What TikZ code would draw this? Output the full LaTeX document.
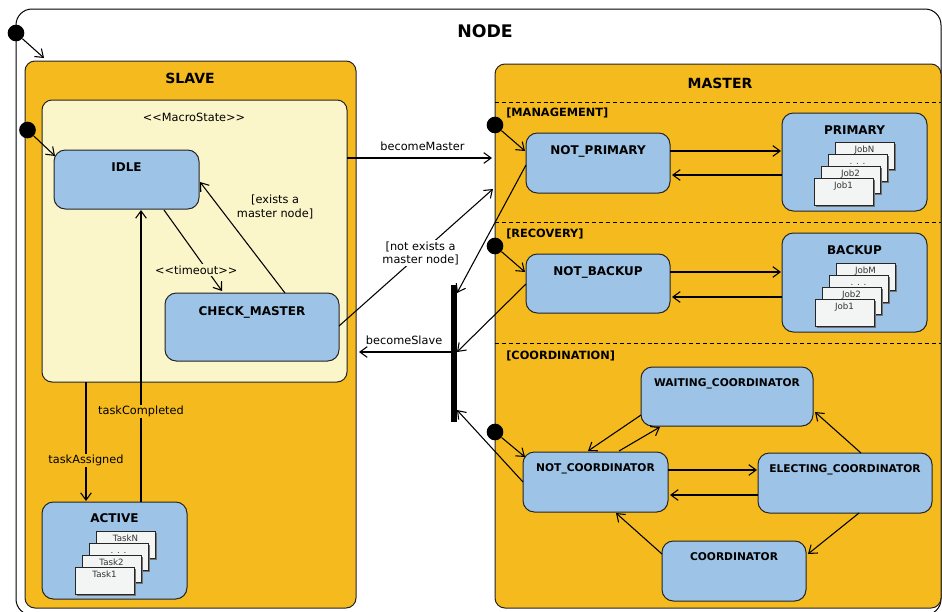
\documentclass[tikz,border=0pt]{standalone}
\usepackage{fontspec}
\setmainfont{DejaVu Sans}
\usetikzlibrary{arrows.meta,calc,shadows}
\definecolor{orangeC}{RGB}{245,187,30}
\definecolor{blueC}{RGB}{157,195,230}
\definecolor{macroC}{RGB}{251,245,202}
\definecolor{jobC}{RGB}{243,244,244}
\definecolor{edgeC}{RGB}{35,35,35}
\tikzset{
 box/.style={draw=edgeC, line width=0.75pt, rounded corners=7.5pt, inner sep=0pt, outer sep=0pt, anchor=north west},
 frame/.style={box, draw=black, rounded corners=12pt},
 region/.style={box, fill=orangeC},
 macro/.style={box, fill=macroC},
 state/.style={box, fill=blueC, rounded corners=8.5pt},
 bigtitle/.style={font=\fontsize{10.5}{12}\selectfont\bfseries, inner sep=0pt, anchor=base},
 hugetitle/.style={font=\fontsize{13}{15}\selectfont\bfseries, inner sep=0pt, anchor=base},
 sttitle/.style={font=\fontsize{9}{11}\selectfont\bfseries, inner sep=0pt, anchor=base},
 smtitle/.style={font=\fontsize{8}{10}\selectfont\bfseries, inner sep=0pt, anchor=base},
 lbl/.style={font=\fontsize{8.5}{10}\selectfont, inner sep=1pt, align=center},
 sect/.style={font=\fontsize{8.5}{10}\selectfont\bfseries, anchor=west, inner sep=0pt},
 tr/.style={draw=black, line width=0.8pt, -{Straight Barb[length=5.5pt,width=8pt,line width=0.8pt]}},
 init/.style={circle, fill=black, inner sep=0pt, minimum size=12.5pt},
 job/.style={draw=black!85, fill=jobC, line width=0.6pt, inner sep=0pt, outer sep=0pt, anchor=north west,
   minimum width=44.25pt, minimum height=20.25pt,
   drop shadow={shadow xshift=1.2pt, shadow yshift=-1.2pt, fill=black!55, opacity=1}},
 jobtxt/.style={font=\fontsize{6.5}{7}\selectfont, text=black!80, inner sep=0pt, anchor=base},
 forkbar/.style={fill=black, inner sep=0pt, outer sep=0pt, anchor=north west},
}
\newcommand\mkbox[6]{%
  \node[#1, minimum width={(#5-#3)*0.75pt}, minimum height={(#6-#4)*0.75pt}] (#2) at (#3,#4) {};}
\newcommand\mkstack[5]{%
 \node[job] (#1a) at (#2,#3) {};
 \node[jobtxt] (#1at) at ($(#1a.north)+(0,10)$) {#4};
 \node[job] (#1b) at ({#2-7},{#3+12}) {};
 \node[jobtxt] (#1bt) at ($(#1b.north)+(0,10)$) {. . .};
 \node[job] (#1c) at ({#2-14},{#3+24}) {};
 \node[jobtxt] (#1ct) at ($(#1c.north)+(0,10)$) {#52};
 \node[job] (#1d) at ({#2-21},{#3+36}) {};
 \node[jobtxt] (#1dt) at ($(#1d.north)+(0,10)$) {#51};
}
\begin{document}
\begin{tikzpicture}[x=0.75pt,y=-0.75pt]
\useasboundingbox (0,0) rectangle (942,611);
\clip (0,0) rectangle (942,611);

% outer NODE frame
\mkbox{frame}{outer}{16}{9}{941}{615}
\node[hugetitle] (nodet) at (485,37) {NODE};
\node[init] (i0) at (16,33) {};
\coordinate (c0) at (44,58);

% SLAVE
\mkbox{region}{slave}{25}{61}{356}{608}
\node[bigtitle] (slavet) at (190,83) {SLAVE};
\mkbox{macro}{macro}{42}{100}{347}{382}
\node[lbl, anchor=base, inner sep=0pt] (macrot) at (194,121) {<\kern0pt<MacroState>\kern0pt>};
\node[init] (i1) at (27.5,130) {};
\mkbox{state}{idle}{54}{150}{199}{209}
\node[sttitle] (idlet) at ($(idle.north)+(0,21)$) {IDLE};
\mkbox{state}{check}{165}{293}{339}{361}
\node[sttitle] (checkt) at ($(check.north)+(0,22)$) {CHECK\_MASTER};
\mkbox{state}{active}{42}{502}{187}{599}
\node[sttitle] (activet) at ($(active.north)+(0,20)$) {ACTIVE};
\mkstack{tk}{96}{531}{TaskN}{Task}

% MASTER
\mkbox{region}{master}{495}{64}{941}{608}
\node[bigtitle] (mastert) at (720,88) {MASTER};
\draw[line width=0.6pt, dash pattern=on 3pt off 2.2pt] ($(master.north west)+(0,38)$) -- ($(master.north east)+(0,38)$);
\draw[line width=0.6pt, dash pattern=on 3pt off 2.2pt] ($(master.north west)+(0,158)$) -- ($(master.north east)+(0,158)$);
\draw[line width=0.6pt, dash pattern=on 3pt off 2.2pt] ($(master.north west)+(0,279)$) -- ($(master.north east)+(0,279)$);
\node[sect] (mgmt) at (506,113) {[MANAGEMENT]};
\node[sect] (recov) at (506,234) {[RECOVERY]};
\node[sect] (coordl) at (506,356) {[COORDINATION]};

\mkbox{state}{notprim}{526}{133}{670}{193}
\node[sttitle] (notprimt) at ($(notprim.north)+(0,21)$) {NOT\_PRIMARY};
\mkbox{state}{primary}{782}{113}{927}{211}
\node[sttitle] (primaryt) at ($(primary.north)+(0,21)$) {PRIMARY};
\mkstack{pj}{835}{142}{JobN}{Job}
\mkbox{state}{notbackup}{526}{254}{670}{313}
\node[sttitle] (notbackupt) at ($(notbackup.north)+(0,21)$) {NOT\_BACKUP};
\mkbox{state}{backup}{782}{233}{927}{332}
\node[sttitle] (backupt) at ($(backup.north)+(0,21)$) {BACKUP};
\mkstack{bj}{836}{263}{JobM}{Job}

\mkbox{state}{waiting}{641}{367}{813}{426}
\node[smtitle] (waitingt) at ($(waiting.north)+(0,19)$) {WAITING\_COORDINATOR};
\mkbox{state}{notcoord}{523}{452}{668}{512}
\node[smtitle] (notcoordt) at ($(notcoord.north)+(0,19)$) {NOT\_COORDINATOR};
\mkbox{state}{electing}{758}{453}{932}{513}
\node[smtitle] (electingt) at ($(electing.north)+(0,19)$) {ELECTING\_COORDINATOR};
\mkbox{state}{coord}{662}{541}{806}{601}
\node[smtitle] (coordt) at ($(coord.north)+(0,19)$) {COORDINATOR};

\node[init] (m1) at (495,125) {};
\node[init] (m2) at (495,246) {};
\node[init] (m3) at (495,432) {};

% fork bar
\node[forkbar, minimum width=4.5pt, minimum height={137*0.75pt}] (bar) at (451,285) {};

% transitions
\draw[tr] (i0) -- (c0);
\draw[tr] (i1) -- ($(idle.north west)+(1,6)$);
\draw[tr] ($(idle.south west)+(110,1)$) -- node[lbl, pos=0.74, fill=macroC, xshift=-8pt] (tol) {<\kern0pt<timeout>\kern0pt>} ($(check.north west)+(57,-2)$);
\draw[tr] ($(check.north west)+(120,0)$) -- node[lbl, pos=0.775, anchor=west, xshift=12pt] (exl) {[exists a\\master node]} ($(idle.north east)+(1,32)$);
\draw[tr] ($(macro.south west)+(44,0)$) -- node[lbl, pos=0.66, fill=orangeC] (ta) {taskAssigned} ($(active.north west)+(44,-1)$);
\draw[tr] ($(active.north west)+(99,0)$) -- node[lbl, pos=0.31, fill=orangeC] (tc) {taskCompleted} ($(idle.south west)+(87,1)$);

\draw[tr] ($(macro.north east)+(0,58)$) -- node[lbl, pos=0.52, above=4pt] (bm) {becomeMaster} ($(master.north west)+(-3,94)$);
\draw[tr] ($(check.north east)+(0,33)$) -- node[lbl, pos=0.53, fill=white] (nel) {[not exists a\\master node]} ($(master.north west)+(-2,125)$);
\draw[tr] ($(notprim.north west)+(0,32)$) -- ($(bar.north east)+(0,8)$);
\draw[tr] ($(notbackup.north west)+(0,30)$) -- ($(bar.north east)+(0,67)$);
\draw[tr] ($(notcoord.north west)+(0,30)$) -- ($(bar.north east)+(0,125)$);
\draw[tr] ($(bar.north west)+(0,67)$) -- node[lbl, pos=0.51, above=4pt] (bs) {becomeSlave} ($(slave.north east)+(3,291)$);

\draw[tr] (m1) -- ($(notprim.north west)+(-1,18)$);
\draw[tr] (m2) -- ($(notbackup.north west)+(-1,18)$);
\draw[tr] (m3) -- ($(notcoord.north west)+(2,5)$);

\draw[tr] ($(notprim.north east)+(0,18)$) -- ($(primary.north west)+(-1,38)$);
\draw[tr] ($(primary.north west)+(0,62)$) -- ($(notprim.north east)+(2,42)$);
\draw[tr] ($(notbackup.north east)+(0,18)$) -- ($(backup.north west)+(-1,39)$);
\draw[tr] ($(backup.north west)+(0,64)$) -- ($(notbackup.north east)+(2,43)$);

\draw[tr] ($(waiting.north west)+(0,48)$) -- ($(notcoord.north west)+(65,-1)$);
\draw[tr] ($(notcoord.north west)+(96,-1)$) -- ($(waiting.south west)+(19,1)$);
\draw[tr] ($(notcoord.north east)+(0,18)$) -- ($(electing.north west)+(-1,17)$);
\draw[tr] ($(electing.north west)+(0,42)$) -- ($(notcoord.north east)+(2,43)$);
\draw[tr] ($(electing.north west)+(103,0)$) -- ($(waiting.north east)+(2,45)$);
\draw[tr] ($(electing.south west)+(101,0)$) -- ($(coord.north east)+(2,13)$);
\draw[tr] ($(coord.north west)+(0,13)$) -- ($(notcoord.south west)+(93,1)$);
\end{tikzpicture}
\end{document}
